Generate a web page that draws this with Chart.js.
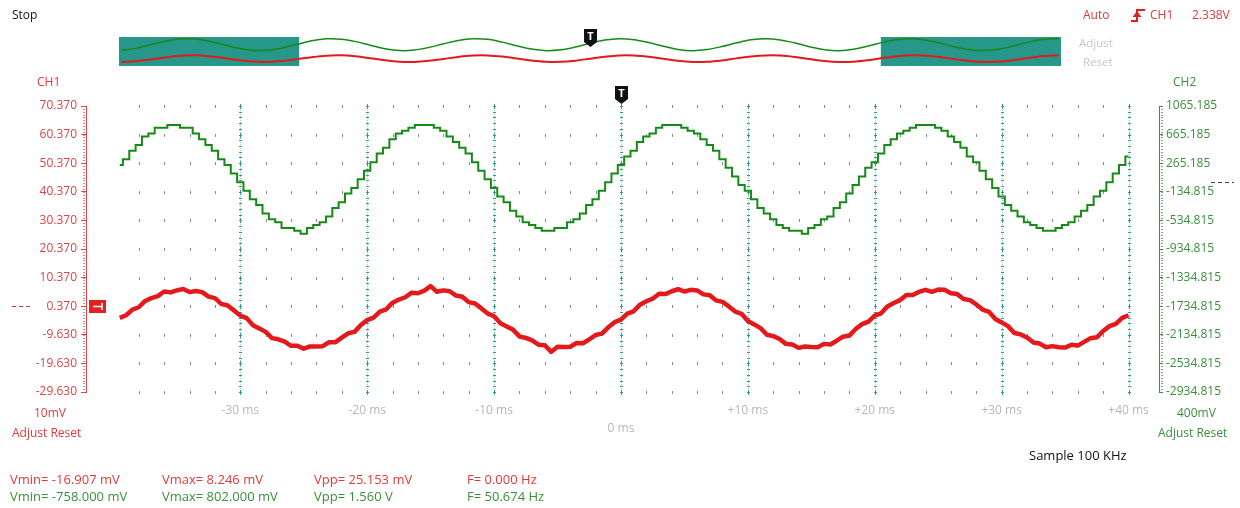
<!DOCTYPE html>
<html>
<head>
<meta charset="utf-8">
<title>Scope capture</title>
<script src="https://cdn.jsdelivr.net/npm/chart.js@4.4.1/dist/chart.umd.min.js"></script>
<style>
  html, body { margin: 0; padding: 0; background: #fff; }
  #scope { position: relative; width: 1240px; height: 508px; overflow: hidden;
           font-family: "Open Sans", "Noto Sans", sans-serif; font-size: 12px; }
  #scope canvas { position: absolute; }
  #mainCanvas { left: 0; top: 0; }
  #overviewCanvas { left: 119px; top: 26px; }
  .lbl { position: absolute; white-space: pre; line-height: 16px; height: 16px; }
  .red { color: #e03a3a; }
  .green { color: #3b8f3b; }
  .gray { color: #c6c6c6; font-size: 11.5px; }
  .big { font-size: 13px; }
</style>
</head>
<body>
<div id="scope">
  <canvas id="mainCanvas" width="1240" height="508"></canvas>
  <canvas id="overviewCanvas" width="942" height="42"></canvas>

  <div class="lbl" style="left:12px;top:7px;color:#111">Stop</div>
  <div class="lbl red" style="left:1083px;top:7px">Auto</div>
  <div class="lbl red" style="left:1150px;top:7px">CH1</div>
  <div class="lbl red" style="left:1192px;top:7px">2.338V</div>
  <div class="lbl gray" style="left:1079px;top:35px">Adjust</div>
  <div class="lbl gray" style="left:1083px;top:54px">Reset</div>

  <div class="lbl red" style="left:37px;top:74px">CH1</div>
  <div class="lbl green" style="left:1173px;top:74px">CH2</div>

  <div class="lbl red" style="left:34px;top:405px">10mV</div>
  <div class="lbl red" style="left:12px;top:425px">Adjust Reset</div>
  <div class="lbl green" style="left:1177px;top:405px">400mV</div>
  <div class="lbl green" style="left:1158px;top:425px">Adjust Reset</div>
  <div class="lbl big" style="left:1029px;top:447px;color:#111">Sample 100 KHz</div>

  <div class="lbl big red" style="left:10px;top:471px">Vmin= -16.907 mV</div>
  <div class="lbl big red" style="left:162px;top:471px">Vmax= 8.246 mV</div>
  <div class="lbl big red" style="left:314px;top:471px">Vpp= 25.153 mV</div>
  <div class="lbl big red" style="left:467px;top:471px">F= 0.000 Hz</div>
  <div class="lbl big green" style="left:10px;top:488px">Vmin= -758.000 mV</div>
  <div class="lbl big green" style="left:162px;top:488px">Vmax= 802.000 mV</div>
  <div class="lbl big green" style="left:314px;top:488px">Vpp= 1.560 V</div>
  <div class="lbl big green" style="left:467px;top:488px">F= 50.674 Hz</div>
</div>

<script>
// ---- capture data -------------------------------------------------------
// Main window: one sample every 0.5 ms starting at -39.5 ms.
const sampleStartMs = -39.5;
const sampleStepMs = 0.5;

// CH1 (mV) - noisy low-level signal
const ch1mV = [
  -3.7, -2.8, -0.8, 0.0, 2.2, 3.2, 3.9, 5.5, 5.2, 5.9,
  6.4, 5.3, 5.7, 5.3, 3.7, 3.2, 1.2, 0.6, -1.1, -2.9,
  -3.8, -6.3, -7.4, -8.6, -10.8, -11.2, -12.0, -13.5, -13.5, -14.5,
  -13.7, -13.7, -13.6, -12.2, -12.2, -10.6, -9.1, -8.6, -6.2, -4.5,
  -3.6, -1.5, -0.7, 1.6, 2.7, 3.5, 5.1, 4.9, 5.8, 7.4,
  5.4, 5.9, 5.6, 4.1, 3.7, 1.8, 1.3, -0.4, -2.2, -3.1,
  -5.6, -6.7, -7.9, -10.2, -10.7, -11.6, -13.1, -13.3, -15.6, -13.8,
  -13.9, -13.8, -12.5, -12.6, -11.2, -9.7, -9.2, -7.0, -5.2, -4.3,
  -2.2, -1.4, 0.9, 2.1, 3.0, 4.7, 4.6, 5.6, 6.3, 5.5,
  6.1, 5.9, 4.5, 4.2, 2.4, 1.9, 0.3, -1.5, -2.3, -4.8,
  -6.0, -7.3, -9.6, -10.1, -11.1, -12.8, -13.0, -14.2, -13.7, -13.9,
  -14.0, -12.8, -13.0, -11.7, -10.3, -9.9, -7.6, -5.9, -5.0, -2.9,
  -2.1, 0.3, 1.5, 2.5, 4.3, 4.3, 5.4, 6.1, 5.4, 6.2,
  6.1, 4.9, 4.6, 2.9, 2.5, 1.0, -0.8, -1.6, -4.1, -5.3,
  -6.6, -9.0, -9.5, -10.6, -12.3, -12.7, -14.0, -13.6, -14.0, -14.1,
  -13.1, -13.4, -12.1, -10.8, -10.5, -8.3, -6.6, -5.8, -3.7, -2.8
];

// CH2 (mV) - quantised sine
const ch2mV = [
  240, 320, 440, 520, 640, 680, 760, 760, 800, 800,
  760, 760, 680, 600, 520, 440, 320, 240, 120, 0,
  -120, -240, -320, -440, -520, -560, -640, -640, -680, -720,
  -640, -600, -560, -480, -360, -280, -160, -80, 40, 160,
  280, 400, 480, 600, 680, 720, 760, 800, 800, 800,
  760, 720, 640, 560, 480, 400, 280, 160, 40, -80,
  -200, -280, -400, -480, -560, -600, -640, -680, -680, -640,
  -640, -560, -520, -440, -320, -240, -120, 0, 120, 240,
  360, 440, 560, 640, 680, 760, 800, 800, 800, 760,
  720, 680, 600, 520, 440, 320, 200, 80, -40, -120,
  -240, -360, -440, -520, -600, -640, -680, -680, -720, -640,
  -600, -520, -480, -360, -280, -160, -40, 80, 200, 280,
  400, 520, 600, 680, 720, 760, 800, 800, 800, 760,
  720, 640, 560, 480, 360, 280, 160, 40, -80, -200,
  -320, -400, -480, -560, -600, -640, -680, -680, -640, -600,
  -560, -480, -400, -320, -200, -120, 0, 120, 240, 360
];

// Overview strip: one sample every 2 ms starting at -64 ms.
const overviewStartMs = -64;
const overviewStepMs = 2;
const overviewCh1mV = [
  -14.0, -11.8, -6.6, -0.3, 4.6, 6.0, 3.5, -1.9, -8.1, -12.8,
  -14.0, -11.3, -5.7, 0.5, 5.0, 5.9, 3.0, -2.7, -8.9, -13.2,
  -13.8, -10.6, -4.9, 1.3, 5.3, 5.7, 2.3, -3.6, -9.6, -13.5,
  -13.6, -10.0, -4.0, 2.0, 5.6, 5.5, 1.6, -4.4, -10.3, -13.7,
  -13.3, -9.3, -3.1, 2.6, 5.8, 5.2, 0.9, -5.3, -11.0, -13.9,
  -13.0, -8.5, -2.3, 3.3, 6.0, 4.8, 0.1, -6.1, -11.5, -14.0,
  -12.6, -7.7, -1.5, 3.8, 6.0
];
const overviewCh2mV = [
  -640, -390, 50, 490, 760, 760, 490, 50, -380, -640,
  -620, -340, 110, 540, 780, 740, 440, -10, -430, -660,
  -600, -280, 170, 580, 790, 720, 380, -70, -480, -670,
  -570, -230, 230, 630, 800, 680, 320, -130, -520, -670,
  -540, -170, 290, 670, 800, 650, 270, -190, -550, -670,
  -500, -110, 350, 700, 800, 610, 200, -250, -580, -660,
  -460, -40, 410, 730, 790
];

// Axis tick labels
const ch1TickLabels = ["70.370", "60.370", "50.370", "40.370", "30.370", "20.370",
                       "10.370", "0.370", "-9.630", "-19.630", "-29.630"];
const ch2TickLabels = ["1065.185", "665.185", "265.185", "-134.815", "-534.815", "-934.815",
                       "-1334.815", "-1734.815", "-2134.815", "-2534.815", "-2934.815"];
const timeTickMs = [-30, -20, -10, 0, 10, 20, 30, 40];
const timeTickLabels = ["-30 ms", "-20 ms", "-10 ms", "0 ms", "+10 ms", "+20 ms", "+30 ms", "+40 ms"];

// Trigger / reference levels
const triggerTimeMs = 0;
const ch1GroundMv = 0.37;
const ch2GroundMv = 0;

// ---- styling --------------------------------------------------------------
const RED = '#e3191c';
const RED_AXIS = '#d84848';
const GREEN = '#168a16';
const GREEN_AXIS = '#3b8f3b';
const TEAL = '#2f9e8c';
const DOT = '#7e918c';
const FONT = '"Open Sans", "Noto Sans", sans-serif';

const toPoints = (vals, start, step) => vals.map((v, i) => ({ x: start + i * step, y: v }));
const labelFor = (labels, v) => labels.find(s => Math.abs(parseFloat(s) - v) < 1e-6) || '';

function drawTriggerFlag(ctx, cx, top) {
  ctx.save();
  ctx.fillStyle = '#111';
  ctx.beginPath();
  ctx.moveTo(cx - 6.5, top);
  ctx.lineTo(cx + 6.5, top);
  ctx.lineTo(cx + 6.5, top + 13);
  ctx.lineTo(cx, top + 18);
  ctx.lineTo(cx - 6.5, top + 13);
  ctx.closePath();
  ctx.fill();
  ctx.fillStyle = '#fff';
  ctx.font = 'bold 11px ' + FONT;
  ctx.textAlign = 'center';
  ctx.textBaseline = 'middle';
  ctx.fillText('T', cx, top + 7.5);
  ctx.restore();
}

// Dotted scope graticule behind the traces
const graticulePlugin = {
  id: 'graticule',
  beforeDatasetsDraw(chart) {
    const { ctx } = chart;
    const xs = chart.scales.x;
    const ys = chart.scales.ch1;
    const rowVals = ch1TickLabels.map(parseFloat);
    const top = ys.getPixelForValue(rowVals[0]);
    const bottom = ys.getPixelForValue(rowVals[rowVals.length - 1]);
    const h = bottom - top;
    ctx.save();
    // minor marks on every division row, every 2 ms
    ctx.fillStyle = DOT;
    for (const v of rowVals) {
      const y = Math.round(ys.getPixelForValue(v));
      for (let t = -38; t <= 40; t += 2) {
        if (t % 10 === 0) continue;
        const x = Math.round(xs.getPixelForValue(t));
        ctx.fillRect(x, y - 1, 1, 3);
      }
    }
    // major time columns
    ctx.fillStyle = TEAL;
    for (const t of timeTickMs) {
      const x = Math.round(xs.getPixelForValue(t));
      for (let j = 0; j <= 50; j++) {
        const y = Math.round(top + j * h / 50);
        ctx.fillRect(x - 1, y, 3, 1);
        if (j % 5 === 0) ctx.fillRect(x, y - 2, 1, 5);
      }
      ctx.globalAlpha = 0.45;
      for (let y = Math.round(top); y <= bottom; y += 2) ctx.fillRect(x, y, 1, 1);
      ctx.globalAlpha = 1;
    }
    ctx.restore();
  },
  afterDraw(chart) {
    const { ctx } = chart;
    const xs = chart.scales.x;
    const y1 = chart.scales.ch1;
    const y2 = chart.scales.ch2;
    const top = y1.top, h = y1.bottom - y1.top;
    ctx.save();
    // fine ruler marks along both vertical axes
    for (let j = 0; j <= 100; j++) {
      const y = Math.round(top + j * h / 100);
      ctx.fillStyle = RED_AXIS;
      ctx.globalAlpha = 0.7;
      ctx.fillRect(y1.right - 3, y, 2, 1);
      ctx.fillStyle = GREEN_AXIS;
      ctx.fillRect(y2.left + 2, y, 2, 1);
    }
    ctx.globalAlpha = 1;

    // CH1 reference marker and dashes
    const gy = Math.round(y1.getPixelForValue(ch1GroundMv));
    ctx.fillStyle = '#e2221f';
    ctx.fillRect(89, gy - 6, 17, 13);
    ctx.strokeStyle = '#fff';
    ctx.lineWidth = 1.5;
    ctx.beginPath();
    ctx.moveTo(93, gy + 0.5); ctx.lineTo(102, gy + 0.5);
    ctx.moveTo(102, gy - 3); ctx.lineTo(102, gy + 4);
    ctx.stroke();
    ctx.strokeStyle = '#d03030';
    ctx.lineWidth = 1;
    ctx.setLineDash([4, 3]);
    ctx.beginPath();
    ctx.moveTo(12, gy + 0.5); ctx.lineTo(33, gy + 0.5);
    ctx.stroke();

    // CH2 reference dashes
    const g2 = Math.round(y2.getPixelForValue(ch2GroundMv));
    ctx.strokeStyle = '#2f4f2f';
    ctx.beginPath();
    ctx.moveTo(1211, g2 + 0.5); ctx.lineTo(1234, g2 + 0.5);
    ctx.stroke();
    ctx.setLineDash([]);

    // trigger flag above the plot
    drawTriggerFlag(ctx, Math.round(xs.getPixelForValue(triggerTimeMs)) + 0.5, 86);

    // rising-edge trigger symbol (top right)
    ctx.strokeStyle = '#e0201e';
    ctx.fillStyle = '#e0201e';
    ctx.lineWidth = 2;
    ctx.beginPath();
    ctx.moveTo(1131, 21); ctx.lineTo(1137, 21); ctx.lineTo(1137, 10); ctx.lineTo(1145, 10);
    ctx.stroke();
    ctx.beginPath();
    ctx.moveTo(1137, 11); ctx.lineTo(1132.5, 17); ctx.lineTo(1141.5, 17); ctx.closePath();
    ctx.fill();
    ctx.restore();
  }
};

new Chart(document.getElementById('mainCanvas'), {
  type: 'line',
  data: {
    datasets: [
      {
        label: 'CH2',
        data: toPoints(ch2mV, sampleStartMs, sampleStepMs),
        xAxisID: 'x', yAxisID: 'ch2',
        borderColor: GREEN, borderWidth: 2,
        stepped: 'middle', pointRadius: 0, fill: false
      },
      {
        label: 'CH1',
        data: toPoints(ch1mV, sampleStartMs, sampleStepMs),
        xAxisID: 'x', yAxisID: 'ch1',
        borderColor: RED, borderWidth: 4.5, borderJoinStyle: 'round',
        tension: 0, pointRadius: 0, fill: false
      }
    ]
  },
  options: {
    responsive: false,
    animation: false,
    events: [],
    layout: { padding: { top: 106, left: 0, right: 0, bottom: 0 } },
    plugins: { legend: { display: false }, tooltip: { enabled: false } },
    scales: {
      x: {
        type: 'linear', position: 'bottom', min: -42.16, max: 42.40,
        afterFit: s => { s.height = 116; },
        afterBuildTicks: s => { s.ticks = timeTickMs.map(v => ({ value: v })); },
        grid: { display: false, drawTicks: false },
        border: { display: false },
        ticks: {
          autoSkip: false, maxRotation: 0, padding: 10, color: '#b6b6b6',
          font: { family: FONT, size: 12, lineHeight: 1.5 },
          callback: v => {
            const s = timeTickLabels[timeTickMs.indexOf(v)];
            return v === triggerTimeMs ? ['', s] : s;
          }
        }
      },
      ch1: {
        type: 'linear', axis: 'y', position: 'left', min: -29.63, max: 70.37,
        afterFit: s => { s.width = 86; },
        afterBuildTicks: s => { s.ticks = ch1TickLabels.map(t => ({ value: parseFloat(t) })).reverse(); },
        grid: { drawOnChartArea: false, drawTicks: true, tickLength: 5, color: RED_AXIS },
        border: { display: true, color: RED_AXIS },
        ticks: {
          autoSkip: false, padding: 4, color: '#d64646',
          font: { family: FONT, size: 12 },
          callback: v => labelFor(ch1TickLabels, v)
        }
      },
      ch2: {
        type: 'linear', axis: 'y', position: 'right', min: -2934.815, max: 1065.185,
        afterFit: s => { s.width = 81; },
        afterBuildTicks: s => { s.ticks = ch2TickLabels.map(t => ({ value: parseFloat(t) })).reverse(); },
        grid: { drawOnChartArea: false, drawTicks: true, tickLength: 4, color: GREEN_AXIS },
        border: { display: true, color: GREEN_AXIS },
        ticks: {
          autoSkip: false, padding: 3, color: GREEN_AXIS,
          font: { family: FONT, size: 12 },
          callback: v => labelFor(ch2TickLabels, v)
        }
      }
    }
  },
  plugins: [graticulePlugin]
});

// Overview strip: shaded parts lie outside the main window
const viewStartMs = -39.7;
const viewEndMs = 39.7;
const overviewPlugin = {
  id: 'overviewShade',
  beforeDatasetsDraw(chart) {
    const { ctx, chartArea } = chart;
    const xs = chart.scales.x;
    ctx.save();
    ctx.fillStyle = '#27978a';
    const a0 = xs.getPixelForValue(xs.min), a1 = xs.getPixelForValue(viewStartMs);
    const b0 = xs.getPixelForValue(viewEndMs), b1 = xs.getPixelForValue(xs.max);
    ctx.fillRect(a0, chartArea.top, a1 - a0, chartArea.bottom - chartArea.top);
    ctx.fillRect(b0, chartArea.top, b1 - b0, chartArea.bottom - chartArea.top);
    ctx.restore();
  },
  afterDatasetsDraw(chart) {
    const xs = chart.scales.x;
    drawTriggerFlag(chart.ctx, Math.round(xs.getPixelForValue(triggerTimeMs)) + 0.5, 3);
  }
};

new Chart(document.getElementById('overviewCanvas'), {
  type: 'line',
  data: {
    datasets: [
      {
        data: toPoints(overviewCh2mV, overviewStartMs, overviewStepMs),
        yAxisID: 'ovCh2', borderColor: GREEN, borderWidth: 1.5,
        tension: 0.35, pointRadius: 0, fill: false
      },
      {
        data: toPoints(overviewCh1mV, overviewStartMs, overviewStepMs),
        yAxisID: 'ovCh1', borderColor: RED, borderWidth: 2,
        tension: 0.35, pointRadius: 0, fill: false
      }
    ]
  },
  options: {
    responsive: false,
    animation: false,
    events: [],
    layout: { padding: { top: 11, bottom: 2, left: 0, right: 0 } },
    plugins: { legend: { display: false }, tooltip: { enabled: false } },
    scales: {
      x: { type: 'linear', display: false, min: -64.3, max: 64.3 },
      ovCh2: { type: 'linear', axis: 'y', position: 'left', display: false, min: -2560, max: 1010 },
      ovCh1: { type: 'linear', axis: 'y', position: 'left', display: false, min: -26, max: 61 }
    }
  },
  plugins: [overviewPlugin]
});
</script>
</body>
</html>
